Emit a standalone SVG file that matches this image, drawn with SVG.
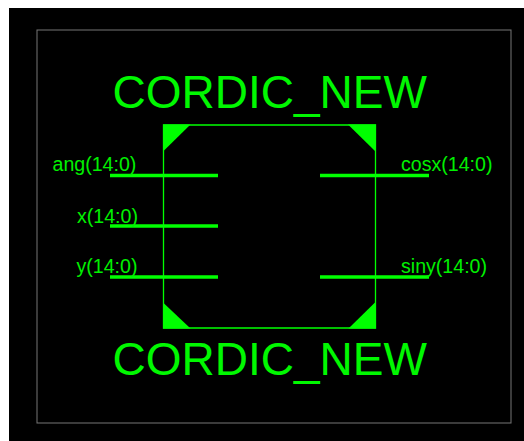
<svg xmlns="http://www.w3.org/2000/svg" width="524" height="441" viewBox="0 0 524 441">
<style>
text{font-family:"Liberation Sans",Arial,sans-serif;fill:#00f000}
.t{font-size:46px;fill:#00f800}
.l{font-size:19.600px}
.w{stroke:#00ff00;stroke-width:3.500;fill:none}
.c{fill:#00ff00}
</style>
<rect width="524" height="441" fill="#fff"/>
<rect x="9" y="8" width="515" height="433" fill="#000"/>
<rect id="frame" x="37" y="30" width="474" height="393" fill="none" stroke="#777" stroke-width="1"/>
<g id="connectors">
<path class="w" d="M110 175.500H218"/>
<path class="w" d="M110 226H218"/>
<path class="w" d="M110 277H218"/>
<path class="w" d="M320 175.500H429"/>
<path class="w" d="M320 277H429"/>
</g>
<g id="block">
<path d="M163.500 125H375.500V328H163.500Z" fill="none" stroke="#00ff00" stroke-width="1.300"/>
<path class="c" d="M163 124.500H190.500L163 151.500Z"/>
<path class="c" d="M348 124.500H376V152Z"/>
<path class="c" d="M163 302.500L190.500 328.500H163Z"/>
<path class="c" d="M348.500 328.500L376 301.500V328.500Z"/>
<text class="t" x="112.500" y="107.500">CORDIC_NEW</text>
<text class="t" x="112.500" y="374.500">CORDIC_NEW</text>
</g>
<g id="ang"><text class="l" x="52.500" y="171">ang(14:0)</text></g>
<g id="x"><text class="l" x="77" y="222.500">x(14:0)</text></g>
<g id="y"><text class="l" x="76.500" y="273">y(14:0)</text></g>
<g id="cosx"><text class="l" x="401" y="171">cosx(14:0)</text></g>
<g id="siny"><text class="l" x="401" y="273">siny(14:0)</text></g>
</svg>
